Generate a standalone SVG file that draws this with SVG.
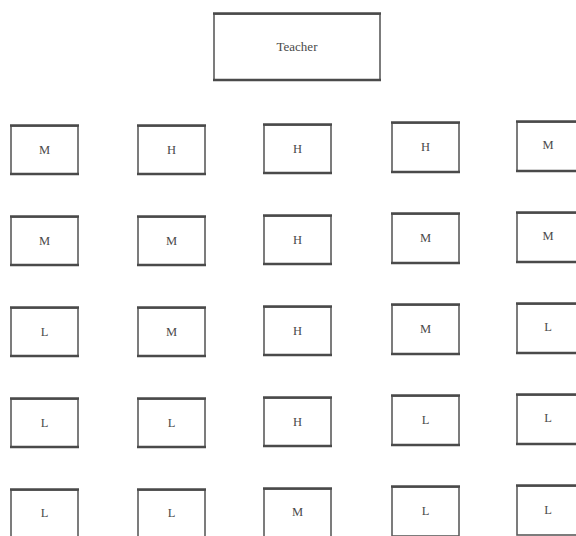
<svg xmlns="http://www.w3.org/2000/svg" width="576" height="536" viewBox="0 0 576 536">
<style>
.box{fill:#fff;stroke:#5c5c5c;stroke-width:1.6}
.edge{stroke:#4a4a4a;stroke-width:2.4}
.lbl{font-family:"Liberation Serif","DejaVu Serif",serif;font-size:12.5px;fill:#4a4a4a;text-anchor:middle;dominant-baseline:central}
.tl{font-size:13px}
</style>
<rect width="576" height="536" fill="#fff"/>
<g id="teacher">
<rect class="box" x="214" y="14" width="166" height="66"/>
<line class="edge" x1="213" y1="13.5" x2="381" y2="13.5"/>
<line class="edge" x1="213" y1="80" x2="381" y2="80"/>
<text class="lbl tl" x="297" y="46">Teacher</text>
</g>
<g id="desks">
<g id="r1c1"><rect class="box" x="11" y="126" width="67" height="48"/><line class="edge" x1="10" y1="125.5" x2="79" y2="125.5"/><line class="edge" x1="10" y1="174" x2="79" y2="174"/><text class="lbl" x="44.5" y="150">M</text></g>
<g id="r1c2"><rect class="box" x="138" y="126" width="67" height="48"/><line class="edge" x1="137" y1="125.5" x2="206" y2="125.5"/><line class="edge" x1="137" y1="174" x2="206" y2="174"/><text class="lbl" x="171.5" y="150">H</text></g>
<g id="r1c3"><rect class="box" x="264" y="125" width="67" height="48"/><line class="edge" x1="263" y1="124.5" x2="332" y2="124.5"/><line class="edge" x1="263" y1="173" x2="332" y2="173"/><text class="lbl" x="297.5" y="149">H</text></g>
<g id="r1c4"><rect class="box" x="392" y="123" width="67" height="49"/><line class="edge" x1="391" y1="122.5" x2="460" y2="122.5"/><line class="edge" x1="391" y1="172" x2="460" y2="172"/><text class="lbl" x="425.5" y="147">H</text></g>
<g id="r1c5"><rect class="box" x="517" y="122" width="67" height="49"/><line class="edge" x1="516" y1="121.5" x2="585" y2="121.5"/><line class="edge" x1="516" y1="171" x2="585" y2="171"/><text class="lbl" x="548" y="145">M</text></g>

<g id="r2c1"><rect class="box" x="11" y="217" width="67" height="48"/><line class="edge" x1="10" y1="216.5" x2="79" y2="216.5"/><line class="edge" x1="10" y1="265" x2="79" y2="265"/><text class="lbl" x="44.5" y="241">M</text></g>
<g id="r2c2"><rect class="box" x="138" y="217" width="67" height="48"/><line class="edge" x1="137" y1="216.5" x2="206" y2="216.5"/><line class="edge" x1="137" y1="265" x2="206" y2="265"/><text class="lbl" x="171.5" y="241">M</text></g>
<g id="r2c3"><rect class="box" x="264" y="216" width="67" height="48"/><line class="edge" x1="263" y1="215.5" x2="332" y2="215.5"/><line class="edge" x1="263" y1="264" x2="332" y2="264"/><text class="lbl" x="297.5" y="240">H</text></g>
<g id="r2c4"><rect class="box" x="392" y="214" width="67" height="49"/><line class="edge" x1="391" y1="213.5" x2="460" y2="213.5"/><line class="edge" x1="391" y1="263" x2="460" y2="263"/><text class="lbl" x="425.5" y="238">M</text></g>
<g id="r2c5"><rect class="box" x="517" y="213" width="67" height="49"/><line class="edge" x1="516" y1="212.5" x2="585" y2="212.5"/><line class="edge" x1="516" y1="262" x2="585" y2="262"/><text class="lbl" x="548" y="236">M</text></g>

<g id="r3c1"><rect class="box" x="11" y="308" width="67" height="48"/><line class="edge" x1="10" y1="307.5" x2="79" y2="307.5"/><line class="edge" x1="10" y1="356" x2="79" y2="356"/><text class="lbl" x="44.5" y="332">L</text></g>
<g id="r3c2"><rect class="box" x="138" y="308" width="67" height="48"/><line class="edge" x1="137" y1="307.5" x2="206" y2="307.5"/><line class="edge" x1="137" y1="356" x2="206" y2="356"/><text class="lbl" x="171.5" y="332">M</text></g>
<g id="r3c3"><rect class="box" x="264" y="307" width="67" height="48"/><line class="edge" x1="263" y1="306.5" x2="332" y2="306.5"/><line class="edge" x1="263" y1="355" x2="332" y2="355"/><text class="lbl" x="297.5" y="331">H</text></g>
<g id="r3c4"><rect class="box" x="392" y="305" width="67" height="49"/><line class="edge" x1="391" y1="304.5" x2="460" y2="304.5"/><line class="edge" x1="391" y1="354" x2="460" y2="354"/><text class="lbl" x="425.5" y="329">M</text></g>
<g id="r3c5"><rect class="box" x="517" y="304" width="67" height="49"/><line class="edge" x1="516" y1="303.5" x2="585" y2="303.5"/><line class="edge" x1="516" y1="353" x2="585" y2="353"/><text class="lbl" x="548" y="327">L</text></g>

<g id="r4c1"><rect class="box" x="11" y="399" width="67" height="48"/><line class="edge" x1="10" y1="398.5" x2="79" y2="398.5"/><line class="edge" x1="10" y1="447" x2="79" y2="447"/><text class="lbl" x="44.5" y="423">L</text></g>
<g id="r4c2"><rect class="box" x="138" y="399" width="67" height="48"/><line class="edge" x1="137" y1="398.5" x2="206" y2="398.5"/><line class="edge" x1="137" y1="447" x2="206" y2="447"/><text class="lbl" x="171.5" y="423">L</text></g>
<g id="r4c3"><rect class="box" x="264" y="398" width="67" height="48"/><line class="edge" x1="263" y1="397.5" x2="332" y2="397.5"/><line class="edge" x1="263" y1="446" x2="332" y2="446"/><text class="lbl" x="297.5" y="422">H</text></g>
<g id="r4c4"><rect class="box" x="392" y="396" width="67" height="49"/><line class="edge" x1="391" y1="395.5" x2="460" y2="395.5"/><line class="edge" x1="391" y1="445" x2="460" y2="445"/><text class="lbl" x="425.5" y="420">L</text></g>
<g id="r4c5"><rect class="box" x="517" y="395" width="67" height="49"/><line class="edge" x1="516" y1="394.5" x2="585" y2="394.5"/><line class="edge" x1="516" y1="444" x2="585" y2="444"/><text class="lbl" x="548" y="418">L</text></g>

<g id="r5c1"><rect class="box" x="11" y="490" width="67" height="48"/><line class="edge" x1="10" y1="489.5" x2="79" y2="489.5"/><text class="lbl" x="44.5" y="513">L</text></g>
<g id="r5c2"><rect class="box" x="138" y="490" width="67" height="48"/><line class="edge" x1="137" y1="489.5" x2="206" y2="489.5"/><text class="lbl" x="171.5" y="513">L</text></g>
<g id="r5c3"><rect class="box" x="264" y="489" width="67" height="48"/><line class="edge" x1="263" y1="488.5" x2="332" y2="488.5"/><text class="lbl" x="297.5" y="512">M</text></g>
<g id="r5c4"><rect class="box" x="392" y="487" width="67" height="49"/><line class="edge" x1="391" y1="486.5" x2="460" y2="486.5"/><text class="lbl" x="425.5" y="511">L</text></g>
<g id="r5c5"><rect class="box" x="517" y="486" width="67" height="49"/><line class="edge" x1="516" y1="485.5" x2="585" y2="485.5"/><text class="lbl" x="548" y="510">L</text></g>
</g>
</svg>
